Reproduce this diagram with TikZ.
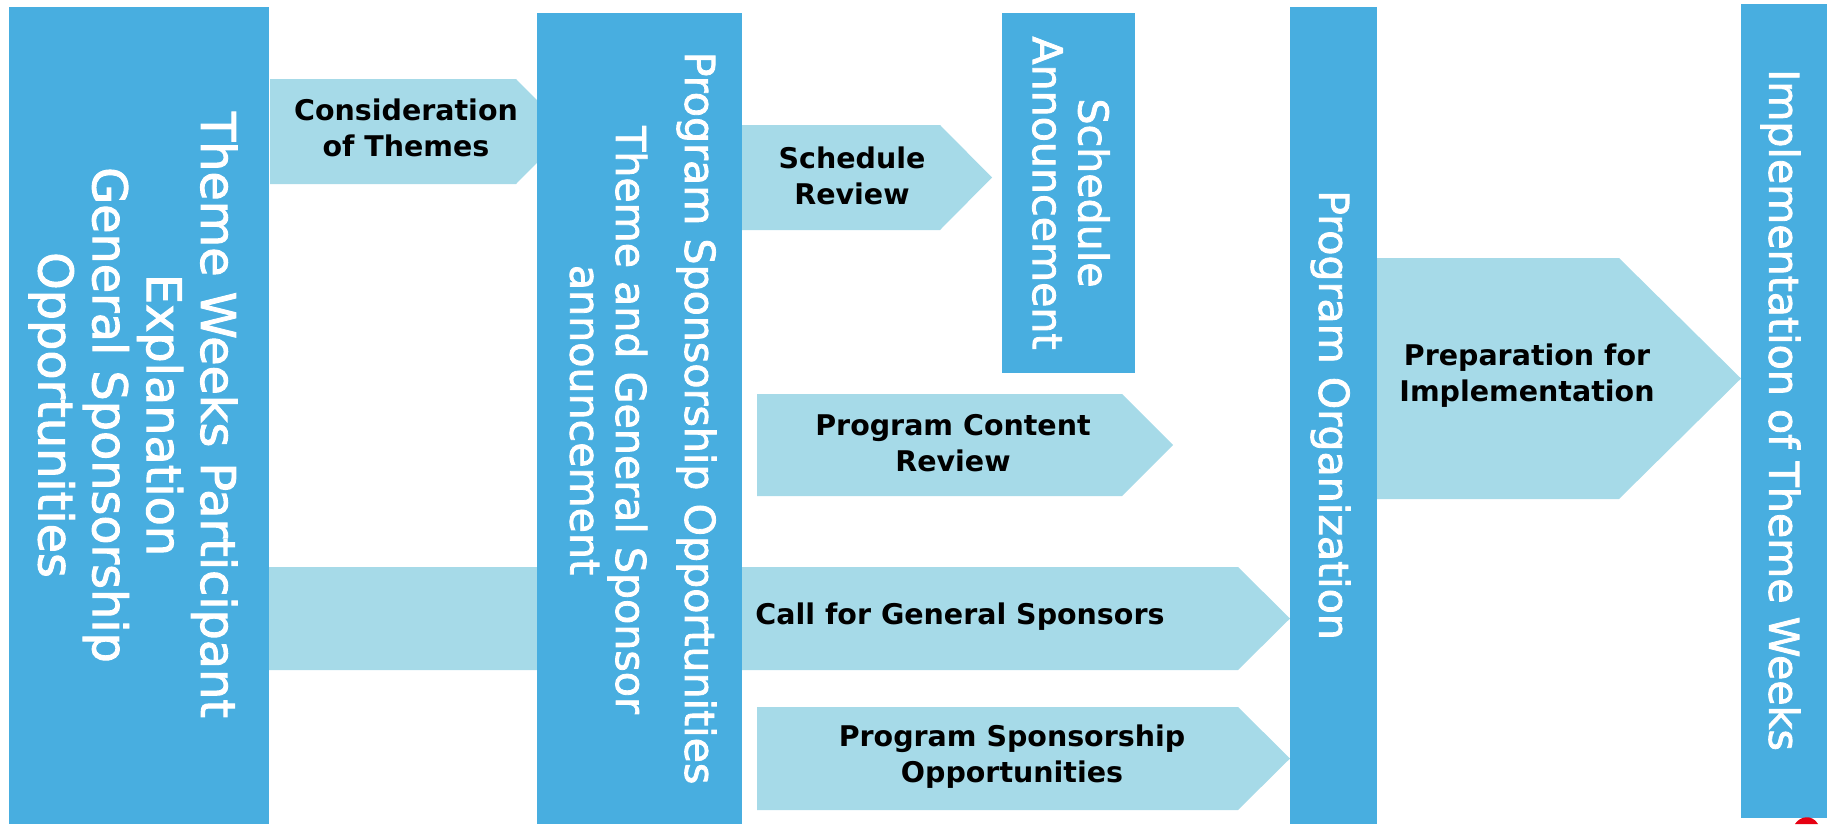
\documentclass[tikz,border=0pt]{standalone}
\usepackage{fontspec}
\setmainfont{DejaVu Sans}
\newfontfamily\stagefont[FakeBold=2]{DejaVu Sans}
\usepackage{tikz}

\definecolor{stageblue}{RGB}{72,174,224}
\definecolor{stepblue}{RGB}{166,218,232}
\definecolor{markred}{RGB}{230,0,18}

\tikzset{
  stagetext/.style={white, rotate=-90, align=center, inner sep=0pt, font=\stagefont\fontsize{11.7}{13}\selectfont},
  steptext/.style={black, align=center, inner sep=0pt, font=\bfseries\fontsize{8.1}{10.25}\selectfont}
}

\begin{document}
\begin{tikzpicture}[x=0.01cm, y=-0.01cm]
                \useasboundingbox (0,0) rectangle (1827,824);

                % Step arrows (drawn first, the columns cover their ends)
                \fill[stepblue] (270,79) -- (516,79) -- (568,131.5) -- (516,184) -- (270,184) -- cycle;
                \fill[stepblue] (269,567) -- (1238,567) -- (1290,618.5) -- (1238,670) -- (269,670) -- cycle;
                \fill[stepblue] (738,125) -- (940,125) -- (992,177.5) -- (940,230) -- (738,230) -- cycle;
                \fill[stepblue] (757,394) -- (1122,394) -- (1173,445) -- (1122,496) -- (757,496) -- cycle;
                \fill[stepblue] (757,707) -- (1238,707) -- (1290,758.5) -- (1238,810) -- (757,810) -- cycle;
                \fill[stepblue] (1377,258) -- (1619,258) -- (1741,378.5) -- (1619,499) -- (1377,499) -- cycle;

                % Stage columns
                \fill[stageblue] (9,7) rectangle (269,824);
                \fill[stageblue] (537,13) rectangle (742,824);
                \fill[stageblue] (1002,13) rectangle (1135,373);
                \fill[stageblue] (1290,7) rectangle (1377,824);
                \fill[stageblue] (1741,4) rectangle (1827,818);

                % Stage labels
                \node[stagetext, font=\stagefont\fontsize{13.57}{15.4}\selectfont] (explain) at (133,415)
                    {Theme Weeks Participant\\Explanation\\General Sponsorship\\Opportunities};
                \node[stagetext] (callopen) at (696.5,418) {Program Sponsorship Opportunities};
                \node[stagetext] (announce) at (608.5,420) {Theme and General Sponsor\\announcement};
                \node[stagetext] (schedann) at (1071,193) {Schedule\\Announcement};
                \node[stagetext] (organize) at (1330.5,415) {Program Organization};
                \node[stagetext] (implement) at (1780.5,410) {Implementation of Theme Weeks};

                % Step labels
                \node[steptext] (themes) at (406,128) {Consideration\\of Themes};
                \node[steptext] (schedrev) at (852,176) {Schedule\\Review};
                \node[steptext] (contentrev) at (953,443) {Program Content\\Review};
                \node[steptext] (generalsp) at (960,617) {Call for General Sponsors};
                \node[steptext] (programsp) at (1012,757) {Program Sponsorship\\Opportunities};
                \node[steptext] (prepare) at (1527,376) {Preparation for\\Implementation};

                % Cut-off mark in the corner
                \fill[markred] (1795,824) .. controls (1800,816) and (1812,814) .. (1818,824) -- cycle;
            \end{tikzpicture}
\end{document}
